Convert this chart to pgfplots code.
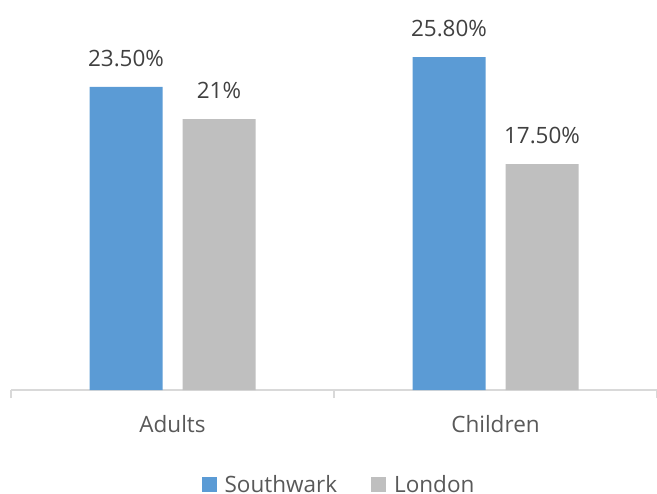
\documentclass[border=0pt]{standalone}
\usepackage{fontspec}
\setmainfont{Open Sans}
\usepackage{pgfplots}
\pgfplotsset{compat=1.18}
\definecolor{sblue}{HTML}{5B9BD5}
\definecolor{lgray}{HTML}{BFBFBF}
\definecolor{axgray}{HTML}{D9D9D9}
\definecolor{labtxt}{HTML}{404040}
\definecolor{ticktxt}{HTML}{595959}
\begin{document}
\begin{tikzpicture}
\useasboundingbox (-11bp,-104bp) rectangle (646bp,390bp);
\begin{axis}[
  at={(0,0)}, anchor=south west,
  scale only axis,
  width=646bp, height=387bp,
  xmin=-0.5, xmax=1.5, ymin=0, ymax=30,
  ybar, bar width=73bp,
  axis x line=bottom, axis y line=none,
  x axis line style={-, draw=axgray, line width=1.3bp},
  xtick={-0.5,0.5,1.5}, xticklabels={},
  xtick align=outside,
  major tick length=8bp,
  major x tick style={draw=axgray, line width=1.3bp},
  extra x ticks={0,1}, extra x tick labels={Adults,Children},
  extra x tick style={major tick length=0pt, major x tick style={draw=none}},
  x tick label style={font=\fontsize{22.5bp}{26bp}\selectfont, text=ticktxt, yshift=-22bp},
  nodes near coords,
  point meta=explicit symbolic,
  every node near coord/.append style={font=\fontsize{22.5bp}{26bp}\selectfont, text=labtxt, yshift=17bp},
  legend style={at={(0.507,-0.245)}, anchor=center, draw=none, fill=none,
    font=\fontsize{22.5bp}{26bp}\selectfont, text=ticktxt,
    nodes={inner xsep=1bp, inner ysep=0bp},
    column sep=7bp,
    /tikz/every even column/.append style={column sep=33bp},
    legend columns=2},
  legend image code/.code={\fill[#1] (0bp,-7.5bp) rectangle (15bp,7.5bp);},
]
\addplot[fill=sblue, draw=none, bar shift=-46.5bp] coordinates {(0,23.5) [23.50\%] (1,25.8) [25.80\%]};
\addplot[fill=lgray, draw=none, bar shift=46.5bp] coordinates {(0,21) [21\%] (1,17.5) [17.50\%]};
\legend{Southwark,London}
\end{axis}
\end{tikzpicture}
\end{document}
